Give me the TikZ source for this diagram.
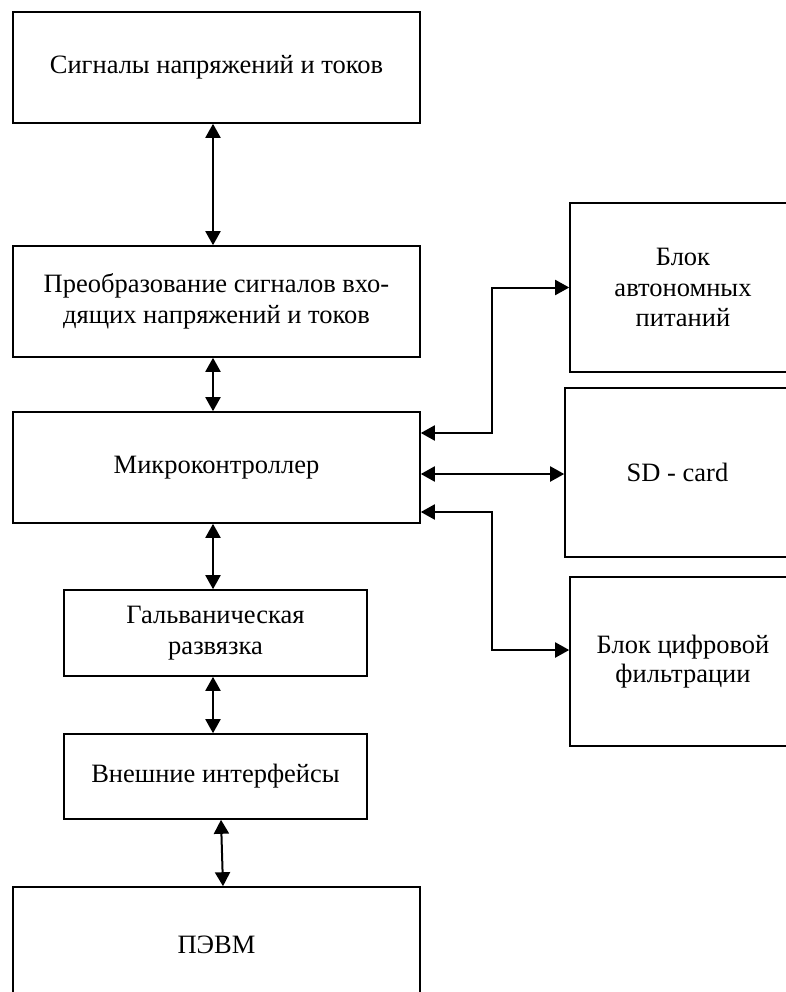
\documentclass[tikz,border=0pt]{standalone}
\usepackage{fontspec}
\setmainfont{Liberation Serif}
\usetikzlibrary{arrows.meta}
\begin{document}
\begin{tikzpicture}[x=1pt,y=-1pt,
  blk/.style={draw=black, line width=1.6pt, rectangle, align=center, inner sep=0pt,
    font=\fontsize{26.5}{30.5}\selectfont},
  conn/.style={line width=2pt, {Triangle[length=14pt,width=15pt]}-{Triangle[length=14pt,width=15pt]}}
]
\useasboundingbox (0,0) rectangle (786,992);
\clip (0,0) rectangle (786,992);
\fill[white] (0,0) rectangle (786,992);

\node[blk, minimum width=407pt, minimum height=111pt] (b1) at (216.5,67.5) {\raisebox{3pt}{Сигналы напряжений и токов}};
\node[blk, minimum width=407pt, minimum height=111pt] (b2) at (216.5,301.5) {Преобразование сигналов вхо-\\дящих напряжений и токов};
\node[blk, minimum width=407pt, minimum height=111pt] (b3) at (216.5,467.5) {Микроконтроллер};
\node[blk, minimum width=303pt, minimum height=86pt] (b4) at (215.5,633) {Гальваническая\\развязка};
\node[blk, minimum width=303pt, minimum height=85pt] (b5) at (215.5,776.5) {Внешние интерфейсы};
\node[blk, minimum width=407pt, minimum height=116pt] (b6) at (216.5,945) {ПЭВМ};
\node[blk, minimum width=226pt, minimum height=169pt] (b7) at (683,287.5) {Блок\\автономных\\питаний};
\node[blk, minimum width=225pt, minimum height=169pt] (b8) at (677.5,472.5) {SD - card};
\node[blk, minimum width=226pt, minimum height=169pt] (b9) at (683,661.5) {\raisebox{5pt}{\shortstack{Блок цифровой\\[2pt]фильтрации}}};

\draw[conn] ([xshift=-3.5pt]b1.south) -- ([xshift=-3.5pt]b2.north);
\draw[conn] ([xshift=-3.5pt]b2.south) -- ([xshift=-3.5pt]b3.north);
\draw[conn] ([xshift=-3.5pt]b3.south) -- ([xshift=-2.5pt]b4.north);
\draw[conn] ([xshift=-2.5pt]b4.south) -- ([xshift=-2.5pt]b5.north);
\draw[conn] ([xshift=5.5pt]b5.south) -- ([xshift=6.5pt]b6.north);

\draw[conn] ([yshift=34.5pt]b3.east) -| ([xshift=-77pt]b7.west) -- (b7.west);
\draw[conn] ([yshift=-6.5pt]b3.east) -- ([yshift=-1.5pt]b8.west);
\draw[conn] ([yshift=-44.5pt]b3.east) -| ([xshift=-77pt,yshift=11.5pt]b9.west) -- ([yshift=11.5pt]b9.west);
\end{tikzpicture}
\end{document}
